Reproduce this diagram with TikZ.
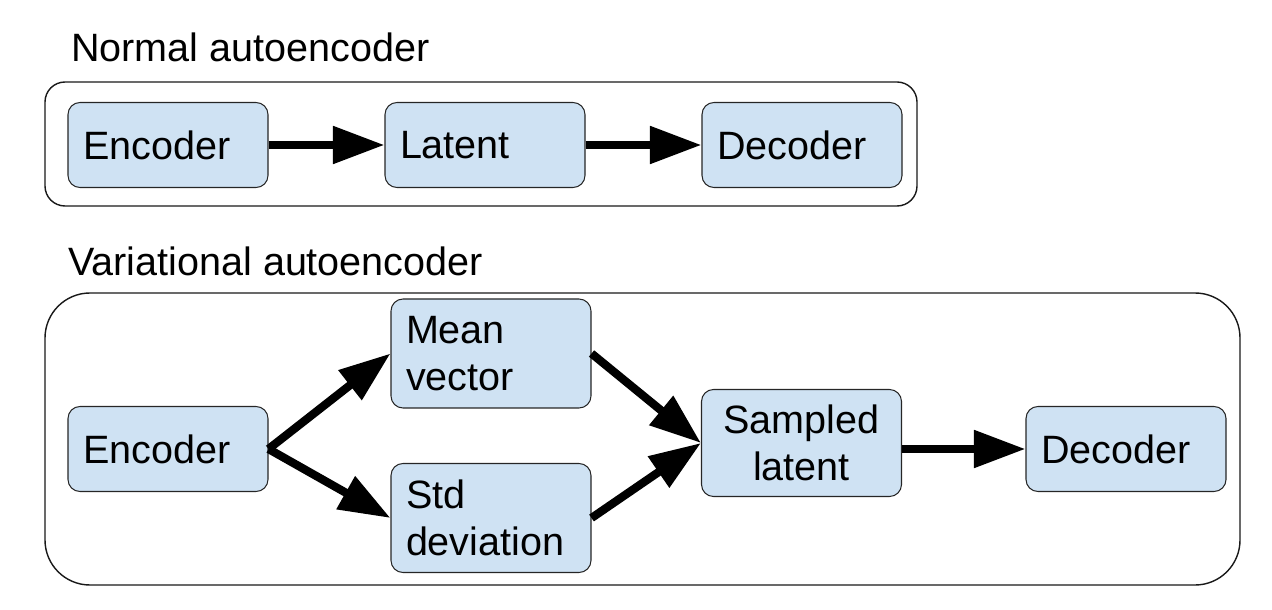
\documentclass[tikz,border=0pt]{standalone}
\usepackage{fontspec}
\setmainfont{Liberation Sans}
\usetikzlibrary{arrows.meta}
\definecolor{boxblue}{HTML}{CFE2F3}
\tikzset{blockbox/.style={draw=black!85,fill=boxblue,rounded corners=0.24cm,line width=0.6pt,inner xsep=0.3cm,text width=3.4cm,align=left,minimum height=1.7cm,font=\fontsize{22.5}{26.7}\selectfont}}
\tikzset{flowarrow/.style={-{Triangle[length=1.03cm,width=0.72cm]},line width=4.7pt}}
\tikzset{groupframe/.style={draw=black!90,line width=0.8pt}}

\begin{document}
\begin{tikzpicture}
        \useasboundingbox (0,0) rectangle (25.44,12.18);
        % draw the normal autoencoder
        \node[anchor=base west,font=\fontsize{22.5}{26.7}\selectfont] (normtitle) at (1.30,10.94) {Normal autoencoder};
        \draw[groupframe,rounded corners=0.4cm] (0.9,8.06) rectangle (18.34,10.54);
        \node[blockbox] (enc1) at (3.36,9.28) {Encoder};
        \node[blockbox] (lat1) at (9.70,9.28) {Latent};
        \node[blockbox] (dec1) at (16.04,9.28) {Decoder};
        \draw[flowarrow] (enc1) -- (lat1);
        \draw[flowarrow] (lat1) -- (dec1);
        
        % draw the variational autoencoder
        \node[anchor=base west,font=\fontsize{22.5}{26.7}\selectfont] (vartitle) at (1.24,6.66) {Variational autoencoder};
        \draw[groupframe,rounded corners=0.9cm] (0.9,0.48) rectangle (24.8,6.32);
        \node[blockbox] (enc2) at (3.36,3.2) {Encoder};
        \node[blockbox,minimum height=2.18cm] (mean) at (9.82,5.11) {Mean\\vector};
        \node[blockbox,minimum height=2.18cm] (std) at (9.82,1.82) {Std\\deviation};
        \node[blockbox,minimum height=2.14cm,align=center] (samp) at (16.03,3.32) {Sampled\\latent};
        \node[blockbox] (dec2) at (22.52,3.2) {Decoder};
        \draw[flowarrow] (enc2.east) -- (mean.west);
        \draw[flowarrow] (enc2.east) -- (std.west);
        \draw[flowarrow] (mean.east) -- (samp.west);
        \draw[flowarrow] (std.east) -- (samp.west);
        \draw[flowarrow] (samp.east |- dec2.west) -- (dec2.west);
    \end{tikzpicture}
\end{document}
